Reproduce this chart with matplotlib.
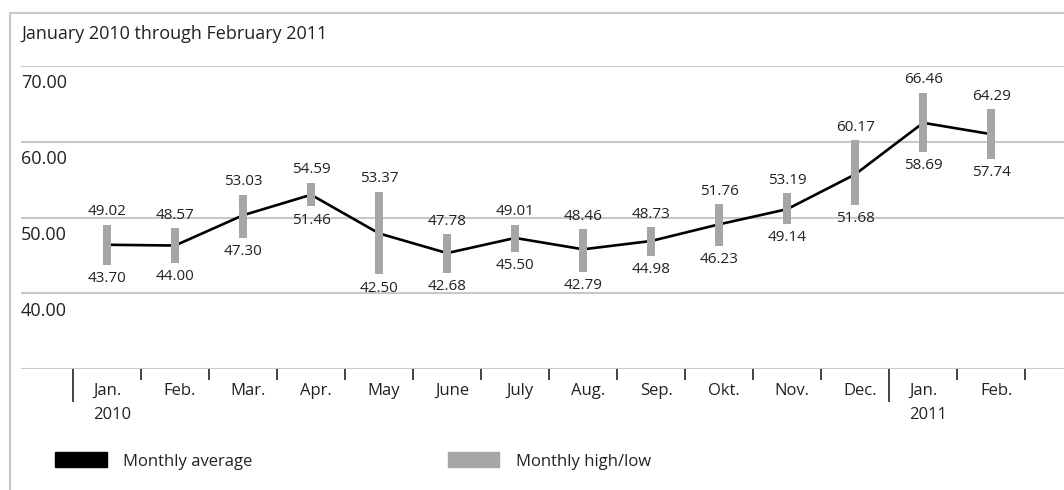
import matplotlib.pyplot as plt
from matplotlib.lines import Line2D
from matplotlib.patches import Patch
from matplotlib.transforms import ScaledTranslation

plt.rcParams['font.family'] = ['Open Sans', 'DejaVu Sans']

months = ["Jan.\n2010", "Feb.", "Mar.", "Apr.", "May", "June", "July", "Aug.",
          "Sep.", "Okt.", "Nov.", "Dec.", "Jan.\n2011", "Feb."]
monthly_high = [49.02, 48.57, 53.03, 54.59, 53.37, 47.78, 49.01, 48.46,
                48.73, 51.76, 53.19, 60.17, 66.46, 64.29]
monthly_low = [43.70, 44.00, 47.30, 51.46, 42.50, 42.68, 45.50, 42.79,
               44.98, 46.23, 49.14, 51.68, 58.69, 57.74]
monthly_avg = [46.4, 46.3, 50.3, 53.0, 47.9, 45.3, 47.3, 45.8,
               46.9, 49.1, 51.1, 55.7, 62.5, 61.0]
y_ticks = [30, 40, 50, 60, 70]
y_labels = ["", "40.00", "50.00", "60.00", "70.00"]

text_color = "#222222"
grid_color = "#c8c8c8"
bar_color = "#a6a6a6"

W, H = 1064, 490
fig = plt.figure(figsize=(W / 100, H / 100), dpi=100)
ax = fig.add_axes([21 / W, (H - 369) / H, 1 - 21 / W, 303 / H])

x = list(range(len(months)))

# gridlines + y labels sitting just below each line
for v, lab in zip(y_ticks, y_labels):
    ax.axhline(v, color=grid_color, lw=1.5, zorder=1)
    if lab:
        ax.annotate(lab, xy=(0, v), xycoords=("axes fraction", "data"),
                    xytext=(0, -6), textcoords="offset points",
                    ha="left", va="top", fontsize=13, color=text_color)

# line behind the high/low bars
ax.plot(x, monthly_avg, color="black", lw=1.9, zorder=2,
        solid_joinstyle="miter")
heights = [h - l for h, l in zip(monthly_high, monthly_low)]
ax.bar(x, heights, bottom=monthly_low, width=0.12, color=bar_color, zorder=3)

for i in x:
    ax.annotate("{:.2f}".format(monthly_high[i]), xy=(i, monthly_high[i]),
                xytext=(0, 4), textcoords="offset points",
                ha="center", va="bottom", fontsize=11, color=text_color)
    ax.annotate("{:.2f}".format(monthly_low[i]), xy=(i, monthly_low[i]),
                xytext=(0, -4.5), textcoords="offset points",
                ha="center", va="top", fontsize=11, color=text_color)

ax.set_xlim(-1.265, 14.07)
ax.set_ylim(30, 70)
for s in ax.spines.values():
    s.set_visible(False)
ax.set_yticks([])

# month boundaries as ticks, names centred in between
ax.set_xticks([i - 0.5 for i in range(len(months) + 1)])
ax.set_xticklabels([])
ax.tick_params(axis="x", which="major", length=8, width=1.3,
               color="#333333", direction="out")
for i, t in enumerate(ax.xaxis.get_major_ticks()):
    if i in (0, 12):
        t.tick1line.set_markersize(24)
ax.set_xticks(x, minor=True)
ax.set_xticklabels(months, minor=True, fontsize=12, color=text_color,
                   linespacing=1.65, multialignment="left")
ax.tick_params(axis="x", which="minor", length=0, pad=10)
for lbl in ax.get_xticklabels(minor=True):
    lbl.set_transform(lbl.get_transform() +
                      ScaledTranslation(5 / 100, 0, fig.dpi_scale_trans))

# outer frame (left and top only)
fig.add_artist(Line2D([10 / W, 10 / W], [0, 1 - 13 / H],
                      color=grid_color, lw=1.5))
fig.add_artist(Line2D([10 / W, 1], [1 - 13 / H, 1 - 13 / H],
                      color=grid_color, lw=1.5))

fig.text(21 / W, 1 - 34 / H, "January 2010 through February 2011",
         ha="left", va="center", fontsize=13, color=text_color)

handles = [Patch(color="black"), Patch(color=bar_color)]
fig.legend(handles, ["Monthly average", "Monthly high/low"], ncol=2,
           loc="center left", bbox_to_anchor=(55 / W, (H - 461) / H),
           frameon=False, fontsize=12, handlelength=3.1, handleheight=1.0,
           handletextpad=1.0, columnspacing=11.7, borderpad=0,
           borderaxespad=0, labelcolor=text_color)

fig.savefig("out.png", dpi=100)
